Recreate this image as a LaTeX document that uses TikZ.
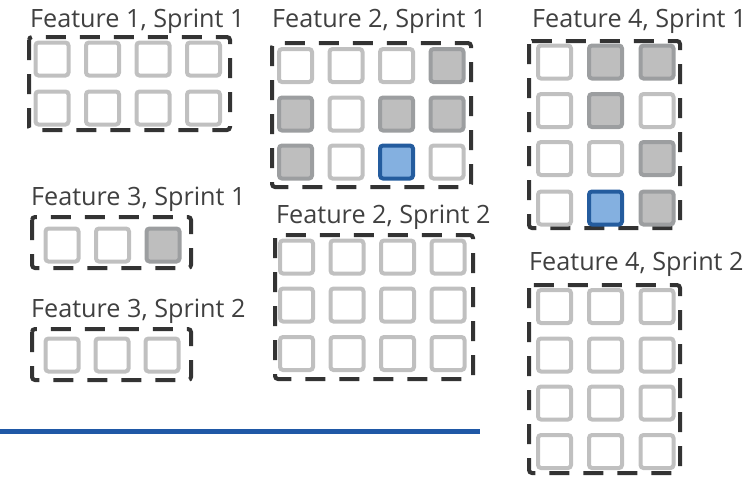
\documentclass[tikz,border=0pt]{standalone}
\usepackage{fontspec}
\setmainfont{Open Sans}
\definecolor{labelgray}{HTML}{404040}
\definecolor{framegray}{HTML}{333333}
\definecolor{cellline}{HTML}{C0C0C0}
\definecolor{doneline}{HTML}{9C9EA0}
\definecolor{donefill}{HTML}{BEBEBE}
\definecolor{activeline}{HTML}{245C9E}
\definecolor{activefill}{HTML}{84B0E0}
\definecolor{rulerblue}{HTML}{1F58A6}
\tikzset{
  cell/.style={draw=cellline, fill=white, line width=4pt, rounded corners=3pt,
    minimum size=33pt, inner sep=0pt},
  donecell/.style={cell, draw=doneline, fill=donefill},
  activecell/.style={cell, draw=activeline, fill=activefill},
  frame/.style={draw=framegray, line width=4pt, dash pattern=on 20pt off 14pt,
    rounded corners=3pt},
  caption/.style={anchor=base west, inner sep=0pt, text=labelgray,
    font=\fontsize{25.2}{30}\selectfont},
}
\begin{document}
\begin{tikzpicture}[x=1pt, y=-1pt]
\useasboundingbox (0,0) rectangle (751,483);

% ---------- Feature 1, Sprint 1 ----------
\node[caption] (t11) at (30,27.5) {Feature 1, Sprint 1};
\draw[frame] (29,37) rectangle (230,130);
\foreach \c/\x in {1/52,2/102.5,3/153,4/203.5}
  \foreach \r/\y in {1/59,2/108}
    \node[cell] (a\r\c) at (\x,\y) {};

% ---------- Feature 2, Sprint 1 ----------
\node[caption] (t21) at (272,27.5) {Feature 2, Sprint 1};
\draw[frame] (272,43) rectangle (471,187);
\foreach \r/\y/\sa/\sb/\sc/\sd in {1/65.5/cell/cell/cell/donecell,
                                    2/114/donecell/cell/donecell/donecell,
                                    3/162/donecell/cell/activecell/cell}{
  \node[\sa] (b\r1) at (295.5,\y) {};
  \node[\sb] (b\r2) at (346,\y) {};
  \node[\sc] (b\r3) at (396.5,\y) {};
  \node[\sd] (b\r4) at (447,\y) {};
}

% ---------- Feature 4, Sprint 1 ----------
\node[caption] (t41) at (532,27.5) {Feature 4, Sprint 1};
\draw[frame] (529,41) rectangle (680,228);
\foreach \r/\y/\sa/\sb/\sc in {1/62/cell/donecell/donecell,
                               2/110.5/cell/donecell/cell,
                               3/158.5/cell/cell/donecell,
                               4/208/cell/activecell/donecell}{
  \node[\sa] (d\r1) at (554.5,\y) {};
  \node[\sb] (d\r2) at (605.5,\y) {};
  \node[\sc] (d\r3) at (657,\y) {};
}

% ---------- Feature 3, Sprint 1 ----------
\node[caption] (t31) at (31,205.5) {Feature 3, Sprint 1};
\draw[frame] (32,217) rectangle (191,268);
\node[cell]     (c11) at (62,245) {};
\node[cell]     (c12) at (112.5,245) {};
\node[donecell] (c13) at (163,245) {};

% ---------- Feature 3, Sprint 2 ----------
\node[caption] (t32) at (31,317.3) {Feature 3, Sprint 2};
\draw[frame] (32,329) rectangle (191,380);
\foreach \c/\x in {1/62,2/112,3/162}
  \node[cell] (e1\c) at (\x,355) {};

% ---------- Feature 2, Sprint 2 ----------
\node[caption] (t22) at (276,223.3) {Feature 2, Sprint 2};
\draw[frame] (275,235) rectangle (473,379);
\foreach \c/\x in {1/296.5,2/347,3/397.5,4/448}
  \foreach \r/\y in {1/257,2/305,3/353.5}
    \node[cell] (f\r\c) at (\x,\y) {};

% ---------- Feature 4, Sprint 2 ----------
\node[caption] (t42) at (529,270) {Feature 4, Sprint 2};
\draw[frame] (529,285) rectangle (680,473);
\foreach \c/\x in {1/554.5,2/605.5,3/657}
  \foreach \r/\y in {1/306.5,2/355,3/403,4/451.5}
    \node[cell] (g\r\c) at (\x,\y) {};

% ---------- timeline rule ----------
\coordinate (rs) at (0,431);
\coordinate (re) at (480,431);
\draw[rulerblue, line width=5pt] (rs) -- (re);
\end{tikzpicture}
\end{document}
